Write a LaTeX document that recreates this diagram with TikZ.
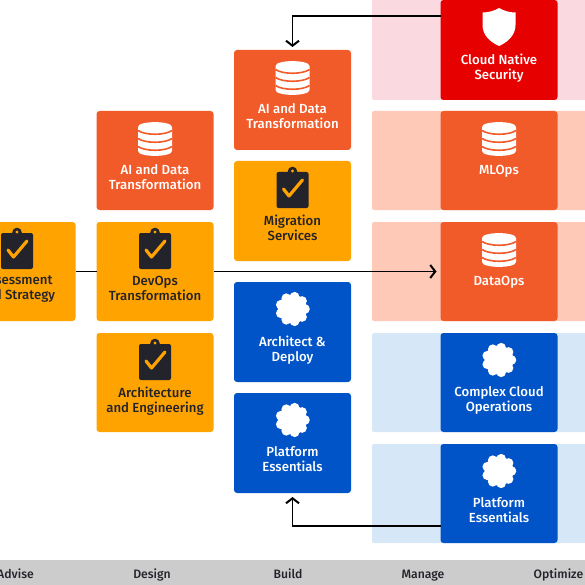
\documentclass[tikz,border=0pt]{standalone}
\usepackage{fontspec}
\setmainfont{Fira Sans Medium}
\usetikzlibrary{calc,arrows.meta}
\definecolor{corange}{HTML}{F15A29}
\definecolor{camber}{HTML}{FFA300}
\definecolor{cblue}{HTML}{0054C8}
\definecolor{cred}{HTML}{E60000}
\definecolor{bandred}{HTML}{FBD9E0}
\definecolor{bandor}{HTML}{FFC9B8}
\definecolor{bandbl}{HTML}{D6E8F7}
\definecolor{cdark}{HTML}{23232B}
\definecolor{cbar}{HTML}{CCCCCC}
\tikzset{
  box/.style={rounded corners=3pt,minimum width=117pt,inner sep=0pt,outer sep=0pt,anchor=north},
  lab/.style={font=\fontsize{13.2}{15}\selectfont,align=center,inner sep=0pt,anchor=north},
  band/.style={rounded corners=2pt},
  bar/.style={font=\fontsize{12.2}{14}\selectfont,text=cdark,anchor=base,inner sep=0pt},
  conn/.style={draw=black,line width=1.5pt},
  tip/.style={-{Straight Barb[length=5pt,width=13pt,line width=2pt]}},
  pics/dbicon/.style={code={
    \fill[white] (-17,-12) .. controls (-17,-18.5) and (17,-18.5) .. (17,-12)
      -- (17,12) .. controls (17,18.5) and (-17,18.5) .. (-17,12) -- cycle;
    \draw[corange,line width=1.6pt] (-17,-8.5) .. controls (-10,-3.5) and (10,-3.5) .. (17,-8.5);
    \draw[corange,line width=1.6pt] (-17,-0.5) .. controls (-10,4.5) and (10,4.5) .. (17,-0.5);
    \draw[corange,line width=1.6pt] (-17,7.5) .. controls (-10,12.5) and (10,12.5) .. (17,7.5);
  }},
  pics/clipicon/.style={code={
    \fill[cdark,rounded corners=2pt] (-16,-14) rectangle (16,22);
    \fill[cdark] (0,-14.5) circle[radius=4.8];
    \fill[camber] (0,-15) circle[radius=1.7];
    \draw[camber,line width=3.2pt,line cap=round,line join=round] (-9,3) -- (-3.5,10) -- (10,-6);
  }},
  pics/shieldicon/.style={code={
    \fill[white] (0,-19) .. controls (5,-16) and (11,-14.5) .. (16.5,-14.5)
      -- (16.5,-2) .. controls (16.5,8) and (9,15) .. (0,19)
      .. controls (-9,15) and (-16.5,8) .. (-16.5,-2)
      -- (-16.5,-14.5) .. controls (-11,-14.5) and (-5,-16) .. (0,-19) -- cycle;
  }},
  pics/flowericon/.style={code={
    \fill[white] (0,0) circle[radius=14.5];
    \foreach \a in {0,40,...,320}{\fill[white] (\a:12.5) circle[radius=4.8];}
  }}
}
\newcommand{\mk}[8]{%
  \node[box,fill=#5,minimum height=#4pt] (#1) at (#2,#3) {};
  \node[lab,text=#6] (#1l) at ($(#1.north)+(0,53.5)$) {#8};
  \pic at ($(#1.north)+(0,#7)$) {\iconname};
}
\begin{document}
\begin{tikzpicture}[x=1pt,y=-1pt]
\useasboundingbox (0,0) rectangle (585,585);
\clip (0,0) rectangle (585,585);
% bands
\fill[bandred,band] (372,-5) rectangle (590,100);
\fill[bandor,band] (372,111) rectangle (590,210);
\fill[bandor,band] (372,222) rectangle (590,321);
\fill[bandbl,band] (372,333) rectangle (590,432);
\fill[bandbl,band] (372,444) rectangle (590,543);
% boxes
\def\iconname{clipicon}
\mk{assess}{17}{222}{99}{camber}{cdark}{25}{Assessment\\and Strategy}
\mk{devops}{155}{222}{99}{camber}{cdark}{25}{DevOps\\Transformation}
\mk{arch}{155}{333}{99}{camber}{cdark}{25}{Architecture\\and Engineering}
\mk{migr}{292.5}{161}{100}{camber}{cdark}{25}{Migration\\Services}
\def\iconname{dbicon}
\mk{aidesign}{155}{111}{99}{corange}{white}{28}{AI and Data\\Transformation}
\mk{aibuild}{292.5}{50}{100}{corange}{white}{28}{AI and Data\\Transformation}
\mk{mlops}{499}{111}{99}{corange}{white}{28}{MLOps}
\mk{dataops}{499}{222}{99}{corange}{white}{28}{DataOps}
\def\iconname{flowericon}
\mk{archdep}{292.5}{282}{100}{cblue}{white}{27}{Architect \&\\Deploy}
\mk{platb}{292.5}{393}{100}{cblue}{white}{27}{Platform\\Essentials}
\mk{cco}{499}{333}{99}{cblue}{white}{27}{Complex Cloud\\Operations}
\mk{platm}{499}{444}{99}{cblue}{white}{27}{Platform\\Essentials}
\def\iconname{shieldicon}
\mk{sec}{499}{0}{100}{cred}{white}{27}{Cloud Native\\Security}
% connectors
\coordinate (secout) at ($(sec.north west)+(0,16)$);
\coordinate (platout) at ($(platm.south west)+(0,-17)$);
\coordinate (aiin) at ($(aibuild.north)+(0,-3)$);
\coordinate (platin) at ($(platb.south)+(0,4)$);
\coordinate (dataopsin) at ($(dataops.west)+(-4,0)$);
\draw[conn] (assess.east) -- (devops.west);
\draw[conn,tip] (devops.east) -- (dataopsin);
\draw[conn,tip] (secout) -| (aiin);
\draw[conn,tip] (platout) -| (platin);
% bar
\fill[cbar] (0,560) rectangle (585,585);
\node[bar] (b1) at (15.5,578) {Advise};
\node[bar] (b2) at (152,578) {Design};
\node[bar] (b3) at (288,578) {Build};
\node[bar] (b4) at (423,578) {Manage};
\node[bar] (b5) at (558.5,578) {Optimize};
\end{tikzpicture}
\end{document}
